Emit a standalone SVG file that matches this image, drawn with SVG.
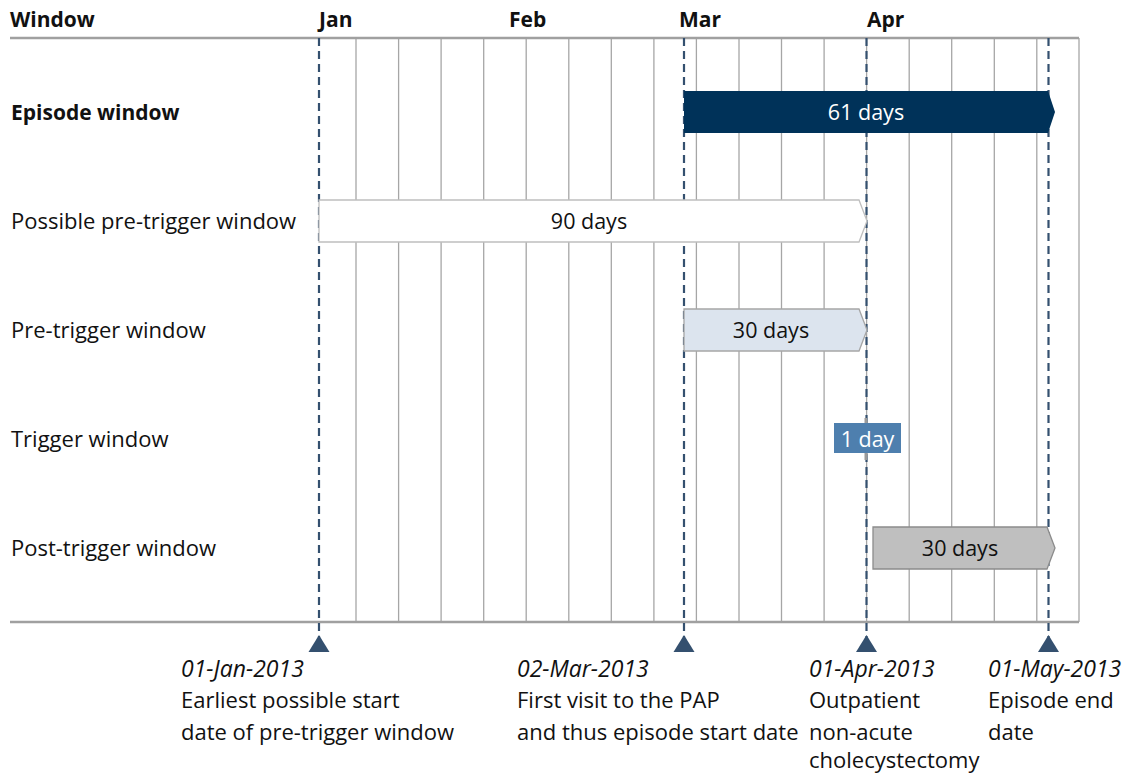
<svg xmlns="http://www.w3.org/2000/svg" width="1138" height="773" viewBox="0 0 1138 773">
<style>
text{font-family:"Open Sans","Liberation Sans",sans-serif;font-size:22px;fill:#111}
.b{font-weight:bold;font-size:21px}
.i{font-style:italic;font-size:23px}
.s{font-size:21.5px}
.c{text-anchor:middle}
.w{fill:#fff}
.grid line{stroke:#a6a6a6;stroke-width:1.3}
.axis{stroke:#a0a0a0;stroke-width:2.5;fill:none}
.dash line{stroke:#34506f;stroke-width:2.2;stroke-dasharray:8 5}
.tri{fill:#34506f}
</style>
<rect width="1138" height="773" fill="#fff"/>
<g id="header">
<text class="b" x="10" y="27">Window</text>
<text class="b" x="319" y="27">Jan</text>
<text class="b" x="509" y="27">Feb</text>
<text class="b" x="679" y="27">Mar</text>
<text class="b" x="867" y="27">Apr</text>
</g>
<g id="grid" class="grid">
<line x1="356" y1="38" x2="356" y2="622"/>
<line x1="398.6" y1="38" x2="398.6" y2="622"/>
<line x1="441.1" y1="38" x2="441.1" y2="622"/>
<line x1="483.7" y1="38" x2="483.7" y2="622"/>
<line x1="526.2" y1="38" x2="526.2" y2="622"/>
<line x1="568.8" y1="38" x2="568.8" y2="622"/>
<line x1="611.3" y1="38" x2="611.3" y2="622"/>
<line x1="653.9" y1="38" x2="653.9" y2="622"/>
<line x1="696.4" y1="38" x2="696.4" y2="622"/>
<line x1="739" y1="38" x2="739" y2="622"/>
<line x1="781.5" y1="38" x2="781.5" y2="622"/>
<line x1="824.1" y1="38" x2="824.1" y2="622"/>
<line x1="866.6" y1="38" x2="866.6" y2="622"/>
<line x1="909.2" y1="38" x2="909.2" y2="622"/>
<line x1="951.7" y1="38" x2="951.7" y2="622"/>
<line x1="994.3" y1="38" x2="994.3" y2="622"/>
<line x1="1036.8" y1="38" x2="1036.8" y2="622"/>
<line x1="1079" y1="38" x2="1079" y2="622"/>
</g>
<g id="axes">
<path class="axis" d="M10 38H1079M10 622H1079"/>
</g>
<g id="connectors" class="dash">
<line x1="319" y1="38" x2="319" y2="638"/>
<line x1="684" y1="38" x2="684" y2="638"/>
<line x1="866.5" y1="38" x2="866.5" y2="638"/>
<line x1="1048.5" y1="38" x2="1048.5" y2="638"/>
</g>
<g id="row-episode">
<text class="b" x="11" y="120">Episode window</text>
<polygon points="684,91 1048,91 1055,112 1048,133 684,133" fill="#003259"/>
<text class="c w s" x="866" y="120">61 days</text>
</g>
<g id="row-possible">
<text x="11" y="229">Possible pre-trigger window</text>
<polygon points="319,200 859,200 867,221 859,242 319,242" fill="#fff" stroke="#bfbfbf" stroke-width="1.3"/>
<text class="c s" x="589" y="229">90 days</text>
</g>
<g id="row-pre">
<text x="11" y="338">Pre-trigger window</text>
<polygon points="684,309 859,309 867,330 859,351 684,351" fill="#dce4ee" stroke="#a6a6a6" stroke-width="1.3"/>
<text class="c s" x="771" y="338">30 days</text>
</g>
<g id="row-trigger">
<text x="11" y="447">Trigger window</text>
<polygon points="864.5,418 867,418 869.5,439 867,460 864.5,460" fill="#9a9a9a"/>
<rect x="834" y="423" width="67" height="30" fill="#4e7fae"/>
<text class="c w s" x="867.5" y="447">1 day</text>
</g>
<g id="row-post">
<text x="11" y="556">Post-trigger window</text>
<polygon points="873,527 1047,527 1055,548 1047,569 873,569" fill="#bfbfbf" stroke="#8c8c8c" stroke-width="1.3"/>
<text class="c s" x="960" y="556">30 days</text>
</g>
<g id="marker-jan">
<polygon class="tri" points="319,635 329.5,652 308.5,652"/>
<text class="i" x="181" y="677">01-Jan-2013</text>
<text x="181" y="708">Earliest possible start</text>
<text x="181" y="740">date of pre-trigger window</text>
</g>
<g id="marker-mar">
<polygon class="tri" points="684,635 694.5,652 673.5,652"/>
<text class="i" x="517" y="677">02-Mar-2013</text>
<text x="517" y="708">First visit to the PAP</text>
<text x="517" y="740">and thus episode start date</text>
</g>
<g id="marker-apr">
<polygon class="tri" points="866.5,635 877,652 856,652"/>
<text class="i" x="809" y="677">01-Apr-2013</text>
<text x="809" y="708">Outpatient</text>
<text x="809" y="740">non-acute</text>
<text x="809" y="768">cholecystectomy</text>
</g>
<g id="marker-may">
<polygon class="tri" points="1048.5,635 1059,652 1038,652"/>
<text class="i" x="988" y="677">01-May-2013</text>
<text x="988" y="708">Episode end</text>
<text x="988" y="740">date</text>
</g>
</svg>
